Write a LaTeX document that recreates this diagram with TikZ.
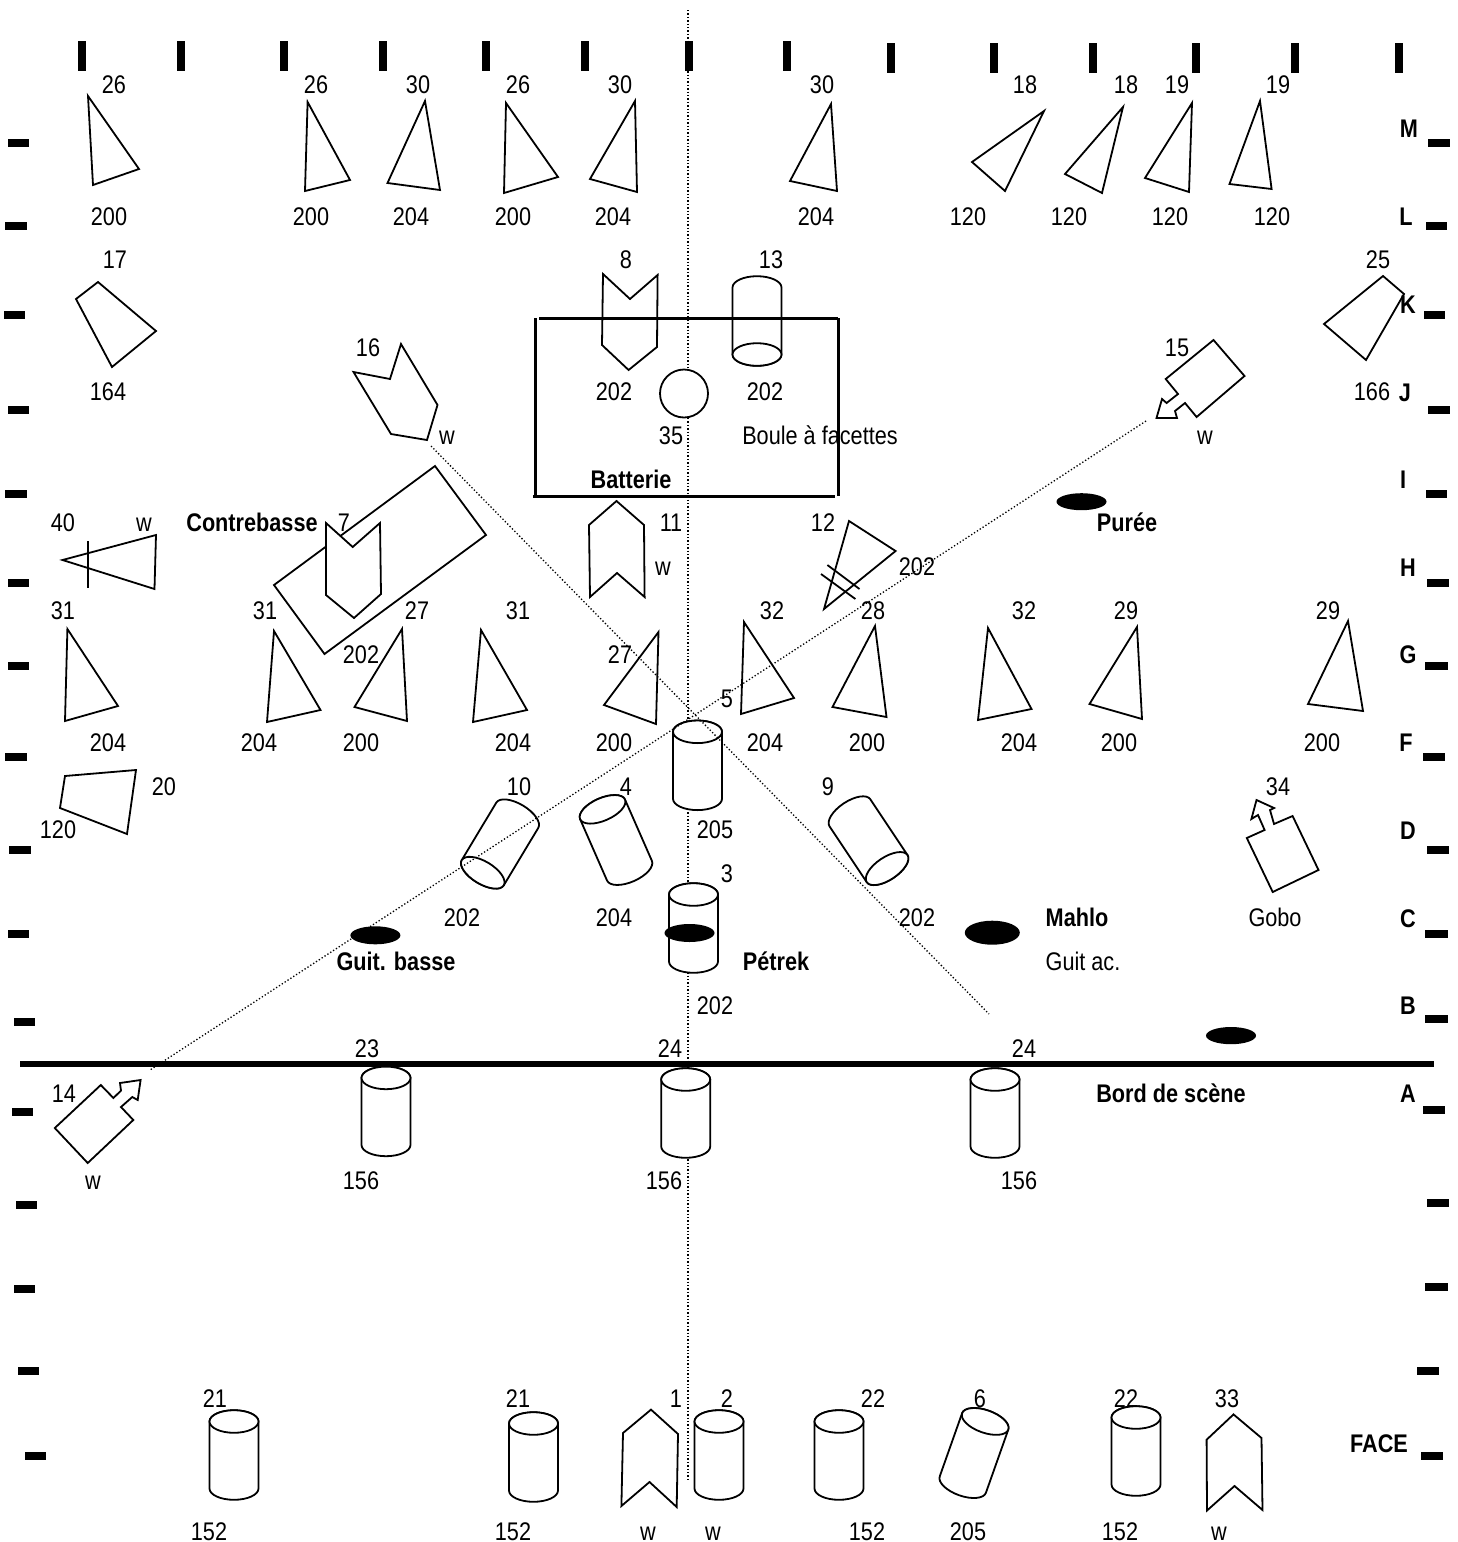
\documentclass[tikz,border=0pt]{standalone}
\usepackage{fontspec}
\usepackage{graphicx}
\setmainfont{Liberation Sans}
\newcounter{lblc}
\tikzset{
  every picture/.style={x=1pt,y=-1pt},
  shp/.style={draw=black,line width=1.8pt,fill=white,line join=miter},
  thinline/.style={draw=black,line width=1.8pt},
  barline/.style={draw=black,line width=3pt},
  dots/.style={draw=black,line width=1.3pt,dash pattern=on 1.3pt off 2.1pt},
  tick/.style={fill=black,draw=none},
  spot/.style={fill=black,draw=none},
  lab/.style={inner sep=0pt,outer sep=0pt,anchor=base,yshift=-9pt,font=\fontsize{25.5}{27}\selectfont},
  blab/.style={lab,font=\fontsize{25.5}{27}\selectfont\bfseries},
}
\newcommand\Lab[3]{\stepcounter{lblc}\node[lab] (lbl\thelblc) at (#1,#2) {\scalebox{.85}[1]{#3}};}
\newcommand\Bab[3]{\stepcounter{lblc}\node[blab] (lbl\thelblc) at (#1,#2) {\scalebox{.85}[1]{#3}};}
\newcommand\Cyl[3]{\begin{scope}[shift={(#1,#2)},rotate=#3]
  \draw[shp] (-24.5,-33.5) -- (-24.5,33.5) arc[start angle=180,end angle=360,x radius=24.5pt,y radius=11.3pt] -- (24.5,-33.5) arc[start angle=0,end angle=180,x radius=24.5pt,y radius=11.3pt] -- cycle;
  \draw[shp] (0,-33.5) ellipse[x radius=24.5pt,y radius=11.3pt];
\end{scope}}
\newcommand\VT[2]{\fill[tick] (#1-4.4,#2) rectangle (#1+4.4,#2+30);}
\newcommand\HT[3]{\fill[tick] (#1,#3-4.4) rectangle (#2,#3+4.4);}
\begin{document}
\begin{tikzpicture}
\useasboundingbox (0,0) rectangle (1458,1542);
% centre line
\draw[dots] (688,10) -- (688,1482);
% top ticks
\VT{82}{41}\VT{181}{41}\VT{284}{41}\VT{383}{41}\VT{486}{41}\VT{585}{41}\VT{689}{41}\VT{787}{41}
\VT{891}{43}\VT{994}{43}\VT{1093}{43}\VT{1196}{43}\VT{1295}{43}\VT{1399}{43}
% left ticks
\HT{8}{29}{143}\HT{5}{27}{226}\HT{4}{25}{315}\HT{8}{29}{410}\HT{5}{27}{494}\HT{8}{29}{583}\HT{8}{29}{666}\HT{5}{27}{757}
\HT{9}{31}{850}\HT{8}{29}{934}\HT{14}{35}{1022}\HT{12}{33}{1112}\HT{16}{37}{1205}\HT{14}{35}{1289}\HT{18}{39}{1371}\HT{25}{46}{1456}
% right ticks
\HT{1428}{1450}{143}\HT{1426}{1447}{226}\HT{1424}{1445}{315}\HT{1428}{1450}{410}\HT{1426}{1447}{494}\HT{1427}{1449}{583}\HT{1425}{1448}{666}\HT{1423}{1445}{757}
\HT{1427}{1449}{850}\HT{1425}{1448}{934}\HT{1425}{1448}{1019}\HT{1423}{1445}{1110}\HT{1427}{1449}{1203}\HT{1425}{1448}{1287}\HT{1417}{1439}{1371}\HT{1421}{1443}{1456}
% row M/L triangles
\draw[shp] (88,96) -- (139,169) -- (93,185) -- cycle;
\draw[shp] (307.6,102) -- (350,180) -- (305,191) -- cycle;
\draw[shp] (425,101) -- (440,190) -- (387.5,183) -- cycle;
\draw[shp] (506,103) -- (558,177) -- (504,193) -- cycle;
\draw[shp] (635,101) -- (637,192) -- (590,179) -- cycle;
\draw[shp] (831,104) -- (837,191) -- (790,181) -- cycle;
\draw[shp] (1044,111) -- (1005,191) -- (972,162) -- cycle;
\draw[shp] (1123,107) -- (1102,193) -- (1065,174) -- cycle;
\draw[shp] (1192,103) -- (1189,192) -- (1145,178) -- cycle;
\draw[shp] (1260,101) -- (1271.6,189) -- (1229.5,184) -- cycle;
% side quads
\draw[shp] (98,282) -- (156,331) -- (112,367) -- (76,299) -- cycle;
\draw[shp] (1383,276) -- (1404,294) -- (1366,360) -- (1324,324) -- cycle;
\draw[shp] (136,770) -- (127,834) -- (60,808) -- (65,776) -- cycle;
% contrebasse area
\draw[shp] (435,466) -- (486,535) -- (324.5,654) -- (274,585) -- cycle;
% chevron shapes
\draw[shp] (401,344) -- (437.5,405) -- (427,440) -- (391,434) -- (353.5,372) -- (390,379) -- cycle;
\draw[shp] (603,274) -- (630,299) -- (657.6,275) -- (657,347) -- (628.6,370) -- (602,345) -- cycle;
\draw[shp] (326,523) -- (352.7,547) -- (380,523) -- (381,594) -- (354,618) -- (326,595) -- cycle;
\draw[shp] (616.5,501) -- (644,525) -- (644.6,597) -- (617,573) -- (590,597) -- (589,525) -- cycle;
\draw[shp] (651,1409.6) -- (678,1434) -- (676.7,1507) -- (649.5,1482) -- (621.4,1506) -- (623,1433) -- cycle;
\draw[shp] (1233.5,1414.4) -- (1261.5,1438) -- (1262.5,1510) -- (1234.5,1486) -- (1207,1510.5) -- (1206.6,1439.7) -- cycle;
% arrow shapes
\draw[shp] (1213.5,340) -- (1244.5,376) -- (1196.6,417) -- (1185,403) -- (1175,411) -- (1177,418) -- (1156.5,418) -- (1162,399) -- (1166.6,403) -- (1178,394) -- (1165.7,379) -- cycle;
\draw[shp] (1256.5,800) -- (1274,808) -- (1270,810) -- (1274,824) -- (1292.6,816) -- (1318.5,870) -- (1272.7,892) -- (1246.8,838) -- (1264.6,830) -- (1258,815) -- (1251.4,819) -- cycle;
\draw[shp] (100.8,1085) -- (113.4,1098) -- (121,1090.6) -- (120,1083) -- (140.6,1080) -- (137.7,1100) -- (132.3,1097) -- (121,1107) -- (133.3,1120) -- (87.7,1163) -- (54.8,1128) -- cycle;
% 40 and 12
\draw[shp] (62.5,560) -- (156,535) -- (154.5,589) -- cycle;
\draw[thinline] (88,541) -- (88,588);
\draw[shp] (849,521) -- (895.6,551) -- (824,609) -- cycle;
\draw[thinline] (827.4,565) -- (859.5,589);
\draw[thinline] (821,574) -- (855.4,599);
% row G triangles
\draw[shp] (67.4,629) -- (118,706) -- (65,721) -- cycle;
\draw[shp] (274,631) -- (320.5,710) -- (267,722) -- cycle;
\draw[shp] (402,629) -- (407,721) -- (354.5,707) -- cycle;
\draw[shp] (481,630) -- (527,710) -- (473,722) -- cycle;
\draw[shp] (658.5,632) -- (656,724) -- (604,705) -- cycle;
\draw[shp] (744,622) -- (794,698) -- (741,714) -- cycle;
\draw[shp] (875,626) -- (886.5,717) -- (832.5,707) -- cycle;
\draw[shp] (988,628) -- (1031.5,709) -- (978,720) -- cycle;
\draw[shp] (1137,627) -- (1142,719) -- (1089.5,704) -- cycle;
\draw[shp] (1348,621) -- (1363,711) -- (1308,704) -- cycle;
% cylinders
\Cyl{757}{321}{180}
\Cyl{697.5}{765.3}{0}
\Cyl{693.5}{928}{0}
\Cyl{500}{844}{149}
\Cyl{616}{840}{23.7}
\Cyl{868.5}{840.7}{213.7}
\Cyl{386}{1111.4}{0}
\Cyl{685.7}{1113}{0}
\Cyl{995}{1113}{0}
\Cyl{234}{1455}{0}
\Cyl{533.5}{1457}{0}
\Cyl{719}{1455}{0}
\Cyl{839}{1455}{0}
\Cyl{974}{1453}{-19.5}
\Cyl{1136}{1451}{0}
% ball
\draw[shp] (684,393.5) circle[radius=24pt];
% drum box
\draw[barline] (539,318) -- (838,318);
\draw[barline] (535,318) -- (535,495);
\draw[barline] (533,496) -- (835.4,496);
\draw[barline] (838,318) -- (838,496);
% diagonals
\draw[dots] (431,446) -- (989,1014);
\draw[dots] (1146,421) -- (150,1070);
% stage edge
\draw[draw=black,line width=6pt] (20,1064) -- (1434,1064);
% spots
\fill[spot] (1081.5,501.7) ellipse[x radius=25pt,y radius=8.5pt];
\fill[spot] (689.5,933) ellipse[x radius=25pt,y radius=9pt];
\fill[spot] (992.3,932.7) ellipse[x radius=27.5pt,y radius=12pt];
\fill[spot] (375.4,935.3) ellipse[x radius=25pt,y radius=9pt];
\fill[spot] (1231,1035.6) ellipse[x radius=25pt,y radius=8.6pt];
% labels
\Lab{114}{84}{26}\Lab{316}{84}{26}\Lab{418}{84}{30}\Lab{518}{84}{26}\Lab{620}{84}{30}\Lab{822}{84}{30}\Lab{1025}{84}{18}\Lab{1126}{84}{18}\Lab{1177}{84}{19}\Lab{1278}{84}{19}
\Lab{109}{216}{200}\Lab{311}{216}{200}\Lab{411}{216}{204}\Lab{513}{216}{200}\Lab{613}{216}{204}\Lab{816}{216}{204}\Lab{968}{216}{120}\Lab{1069}{216}{120}\Lab{1170}{216}{120}\Lab{1272}{216}{120}
\Bab{1409}{128}{M}\Bab{1406}{216}{L}\Bab{1408}{304}{K}\Bab{1405}{392}{J}\Bab{1403}{479}{I}\Bab{1408}{567}{H}\Bab{1408}{654}{G}\Bab{1406}{742}{F}\Bab{1408}{830}{D}\Bab{1408}{918}{C}\Bab{1408}{1005}{B}\Bab{1408}{1093}{A}\Bab{1379}{1443}{FACE}
\Lab{115}{259}{17}\Lab{626}{259}{8}\Lab{771}{259}{13}\Lab{1378}{259}{25}
\Lab{368}{347}{16}\Lab{1177}{347}{15}
\Lab{108}{391}{164}\Lab{614}{391}{202}\Lab{765}{391}{202}\Lab{1372}{391}{166}
\Lab{671}{435}{35}\Lab{447}{435}{w}\Lab{820}{435}{Boule à facettes}\Lab{1205}{435}{w}
\Bab{631}{479}{Batterie}
\Lab{63}{522}{40}\Lab{144}{522}{w}\Bab{252}{522}{Contrebasse}\Lab{344}{522}{7}\Lab{671}{522}{11}\Lab{823}{522}{12}\Bab{1127}{522}{Purée}
\Lab{663}{566}{w}\Lab{917}{566}{202}
\Lab{63}{610}{31}\Lab{265}{610}{31}\Lab{417}{610}{27}\Lab{518}{610}{31}\Lab{772}{610}{32}\Lab{873}{610}{28}\Lab{1024}{610}{32}\Lab{1126}{610}{29}\Lab{1328}{610}{29}
\Lab{361}{654}{202}\Lab{620}{654}{27}
\Lab{727}{698}{5}
\Lab{108}{742}{204}\Lab{259}{742}{204}\Lab{361}{742}{200}\Lab{513}{742}{204}\Lab{614}{742}{200}\Lab{765}{742}{204}\Lab{867}{742}{200}\Lab{1019}{742}{204}\Lab{1119}{742}{200}\Lab{1322}{742}{200}
\Lab{164}{786}{20}\Lab{519}{786}{10}\Lab{626}{786}{4}\Lab{828}{786}{9}\Lab{1278}{786}{34}
\Lab{58}{829}{120}\Lab{715}{829}{205}
\Lab{727}{873}{3}
\Lab{462}{917}{202}\Lab{614}{917}{204}\Lab{917}{917}{202}\Bab{1077}{917}{Mahlo}\Lab{1275}{917}{Gobo}
\Bab{396}{961}{Guit. basse}\Bab{776}{961}{Pétrek}\Lab{1083}{961}{Guit ac.}
\Lab{715}{1005}{202}
\Lab{367}{1048}{23}\Lab{670}{1048}{24}\Lab{1024}{1048}{24}
\Lab{64}{1093}{14}\Bab{1171}{1093}{Bord de scène}
\Lab{93}{1180}{w}\Lab{361}{1180}{156}\Lab{664}{1180}{156}\Lab{1019}{1180}{156}
\Lab{215}{1398}{21}\Lab{518}{1398}{21}\Lab{676}{1398}{1}\Lab{727}{1398}{2}\Lab{873}{1398}{22}\Lab{980}{1398}{6}\Lab{1126}{1398}{22}\Lab{1227}{1398}{33}
\Lab{209}{1531}{152}\Lab{513}{1531}{152}\Lab{648}{1531}{w}\Lab{713}{1531}{w}\Lab{867}{1531}{152}\Lab{968}{1531}{205}\Lab{1120}{1531}{152}\Lab{1219}{1531}{w}
\end{tikzpicture}
\end{document}
